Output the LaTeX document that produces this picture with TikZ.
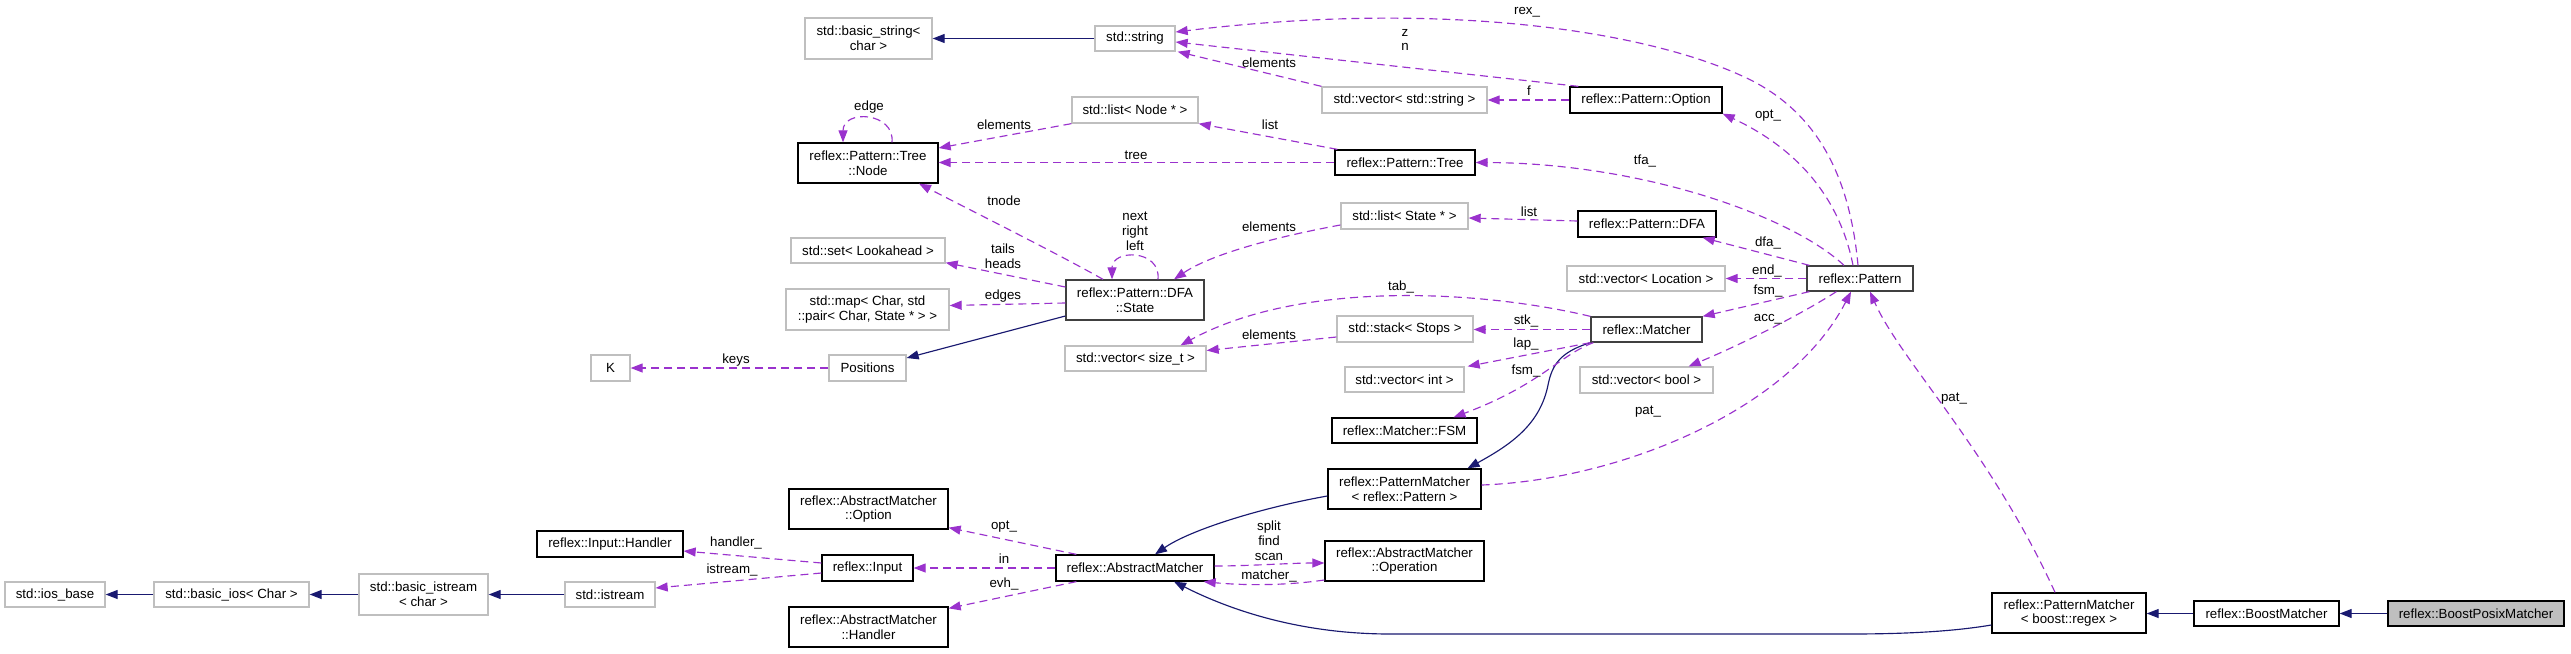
\documentclass[tikz,border=0pt]{standalone}
\usepackage{fontspec}
\setmainfont{Liberation Sans}
\usetikzlibrary{arrows.meta}
\definecolor{usecol}{HTML}{9A32CD}
\definecolor{inhcol}{HTML}{191970}
\definecolor{extcol}{HTML}{BFBFBF}
\definecolor{dkcol}{HTML}{404040}
\newcommand\dgfont{\fontsize{13.3}{14.8}\selectfont}
\begin{document}
\begin{tikzpicture}[x=1pt,y=-1pt,
  cls/.style={draw=black, line width=1.3pt, fill=white, inner sep=0pt, align=center, font=\dgfont},
  dk/.style={cls, draw=dkcol},
  ext/.style={cls, draw=extcol},
  hl/.style={cls, fill=extcol},
  sz/.style 2 args={minimum width=#1pt, minimum height=#2pt},
  inh/.style={draw=inhcol, line width=1.15pt, -{Triangle[length=12pt,width=9pt]}},
  use/.style={draw=usecol, line width=1.15pt, dash pattern=on 8pt off 5pt, -{Triangle[length=12pt,width=9pt]}},
  lbl/.style={inner sep=0pt, align=center, font=\dgfont}]
\useasboundingbox (0,0) rectangle (2571,653);
% ---------- nodes ----------
\node[ext, sz={127}{41}] (basicstring) at (868.5,38.5) {std::basic\_string<\\char >};
\node[ext, sz={80}{25}] (string) at (1135,38.5) {std::string};
\node[cls, sz={140}{40}] (node) at (868,163) {reflex::Pattern::Tree\\::Node};
\node[ext, sz={126}{26}] (listnode) at (1135,110) {std::list< Node * >};
\node[ext, sz={165}{26}] (vecstr) at (1404.5,100) {std::vector< std::string >};
\node[cls, sz={152}{26}] (popt) at (1646,100) {reflex::Pattern::Option};
\node[cls, sz={140}{25}] (tree) at (1405,162.5) {reflex::Pattern::Tree};
\node[ext, sz={127}{26}] (liststate) at (1404.5,216) {std::list< State * >};
\node[cls, sz={138}{26}] (dfa) at (1647,224) {reflex::Pattern::DFA};
\node[dk, sz={138}{40}] (state) at (1135,300) {reflex::Pattern::DFA\\::State};
\node[ext, sz={154}{25}] (setla) at (868,250.5) {std::set< Lookahead >};
\node[ext, sz={163}{41}] (mapc) at (867.5,309.5) {std::map< Char, std\\::pair< Char, State * > >};
\node[ext, sz={158}{25}] (veclocation) at (1646,278.5) {std::vector< Location >};
\node[dk, sz={106}{25}] (pattern) at (1860,278.5) {reflex::Pattern};
\node[dk, sz={111}{25}] (matcher) at (1646.5,329.5) {reflex::Matcher};
\node[ext, sz={136}{26}] (stack) at (1405,329) {std::stack< Stops >};
\node[ext, sz={141}{25}] (vecsize) at (1135.5,358.5) {std::vector< size\_t >};
\node[ext, sz={119}{25}] (vecint) at (1404.5,379.5) {std::vector< int >};
\node[ext, sz={133}{26}] (vecbool) at (1646.5,380) {std::vector< bool >};
\node[cls, sz={145}{25}] (fsm) at (1404.5,430.5) {reflex::Matcher::FSM};
\node[cls, sz={153}{40}] (pmpat) at (1404.5,489) {reflex::PatternMatcher\\< reflex::Pattern >};
\node[ext, sz={77}{26}] (positions) at (867.5,368) {Positions};
\node[ext, sz={39}{26}] (K) at (610.5,368) {K};
\node[cls, sz={159}{40}] (amopt) at (868.5,509) {reflex::AbstractMatcher\\::Option};
\node[cls, sz={146}{26}] (ihandler) at (610,544) {reflex::Input::Handler};
\node[cls, sz={91}{26}] (input) at (867.5,568) {reflex::Input};
\node[cls, sz={158}{26}] (am) at (1135,568) {reflex::AbstractMatcher};
\node[cls, sz={159}{40}] (amop) at (1404.5,561) {reflex::AbstractMatcher\\::Operation};
\node[cls, sz={159}{40}] (amhandler) at (868.5,627) {reflex::AbstractMatcher\\::Handler};
\node[ext, sz={100}{25}] (iosbase) at (55,594.5) {std::ios\_base};
\node[ext, sz={155}{25}] (basicios) at (231.5,594.5) {std::basic\_ios< Char >};
\node[ext, sz={129}{41}] (basicistream) at (423.5,594.5) {std::basic\_istream\\< char >};
\node[ext, sz={90}{25}] (istream) at (610,594.5) {std::istream};
\node[cls, sz={154}{40}] (pmboost) at (2069,613) {reflex::PatternMatcher\\< boost::regex >};
\node[cls, sz={145}{25}] (boostm) at (2266.5,613.5) {reflex::BoostMatcher};
\node[hl, sz={176}{25}] (boostposix) at (2476,613.5) {reflex::BoostPosixMatcher};
% ---------- inheritance ----------
\draw[inh] (string.west) -- (basicstring.east);
\draw[inh] ([yshift=-16pt]state.west) -- ([yshift=10pt]positions.east);
\draw[inh] (basicios.west) -- (iosbase.east);
\draw[inh] (basicistream.west) -- (basicios.east);
\draw[inh] (istream.west) -- (basicistream.east);
\draw[inh] (matcher.south west) .. controls (1560,352) and (1552,365) .. (1548,385)
   .. controls (1540,425) and (1510,445) .. ([xshift=63pt]pmpat.north);
\draw[inh] ([yshift=-7pt]pmpat.west) .. controls (1260,508) and (1190,530) .. ([xshift=20pt]am.north);
\draw[inh] ([yshift=-12pt]pmboost.west) .. controls (1950,632) and (1900,634) .. (1850,634) -- (1390,634)
   .. controls (1300,634) and (1230,610) .. ([xshift=39pt]am.south);
\draw[inh] (boostm.west) -- (boostm.west -| pmboost.east);
\draw[inh] (boostposix.west) -- (boostm.east);
% ---------- usage ----------
\draw[use] ([xshift=24pt]node.north) .. controls (895,112) and (843,109) .. ([xshift=-25pt]node.north);
\draw[use] (listnode.south west) -- ([yshift=15pt]node.east);
\draw[use] ([xshift=3pt]tree.north west) -- (listnode.south east);
\draw[use] (tree.west) -- (tree.west -| node.east);
\draw[use] ([xshift=-16pt]pattern.north) .. controls (1790,215) and (1640,163) .. (tree.east);
\draw[use] (popt.west) -- (vecstr.east);
\draw[use] (vecstr.north west) -- ([xshift=2pt]string.south east);
\draw[use] ([xshift=9pt]popt.north west) -- ([yshift=-3.5pt]string.east);
\draw[use] ([xshift=-2pt]pattern.north) .. controls (1850,180) and (1820,110) .. (1740,75)
   .. controls (1640,30) and (1440,0) .. ([yshift=6.5pt]string.east);
\draw[use] ([xshift=-7pt]pattern.north) .. controls (1840,200) and (1800,150) .. (popt.south east);
\draw[use] ([yshift=3pt]dfa.west) -- ([yshift=-2pt]liststate.east);
\draw[use] ([yshift=-9pt]liststate.west) .. controls (1270,238) and (1210,255) .. ([xshift=39pt]state.north);
\draw[use] ([xshift=23pt]state.north) .. controls (1161,249) and (1112,249) .. ([xshift=-23pt]state.north);
\draw[use] ([xshift=-32pt]state.north) .. controls (1060,255) and (980,215) .. ([xshift=51pt]node.south);
\draw[use] ([yshift=13pt]state.west) -- ([yshift=1pt]setla.south east);
\draw[use] ([yshift=-3pt]state.west) -- ([yshift=4pt]mapc.east);
\draw[use] ([xshift=3pt]pattern.north west) -- ([xshift=-14pt]dfa.south east);
\draw[use] (pattern.west) -- (veclocation.east);
\draw[use] ([xshift=3pt]pattern.south west) -- (matcher.north east);
\draw[use] ([xshift=30pt]pattern.south west) .. controls (1800,315) and (1740,345) .. ([xshift=-25pt]vecbool.north east);
\draw[use] ([yshift=4pt]pmpat.east) .. controls (1620,480) and (1790,410) .. ([xshift=-9pt]pattern.south);
\draw[use] ([xshift=-14pt]pmboost.north) .. controls (1990,450) and (1900,360) .. ([xshift=10pt]pattern.south);
\draw[use] (matcher.north west) .. controls (1480,290) and (1300,280) .. ([xshift=45pt]vecsize.north);
\draw[use] (matcher.west) -- (matcher.west -| stack.east);
\draw[use] ([yshift=-8pt]stack.west) -- ([yshift=8pt]vecsize.east);
\draw[use] (matcher.south west) -- ([xshift=3pt]vecint.north east);
\draw[use] ([xshift=3pt]matcher.south west) .. controls (1560,355) and (1540,385) .. ([xshift=49pt]fsm.north);
\draw[use] ([xshift=21pt]am.north west) -- ([yshift=2pt]amopt.south east);
\draw[use] (am.west) -- (input.east);
\draw[use] ([xshift=21pt]am.south west) -- ([yshift=-2pt]amhandler.north east);
\draw[use] ([yshift=2pt]am.east) .. controls (1250,566) and (1290,563) .. ([yshift=-2pt]amop.west);
\draw[use] ([yshift=-19pt]amop.west) .. controls (1290,585) and (1250,586) .. ([xshift=-11pt]am.south east);
\draw[use] ([yshift=5pt]input.west) -- ([yshift=-7pt]ihandler.east);
\draw[use] ([yshift=-5pt]input.west) -- ([yshift=6.5pt]istream.east);
\draw[use] (positions.west) -- (K.east);
% ---------- labels ----------
\node[lbl] (l1) at (869,107) {edge};
\node[lbl] (l2) at (1004,125) {elements};
\node[lbl] (l3) at (1270,125) {list};
\node[lbl] (l4) at (1136,155) {tree};
\node[lbl] (l5) at (1645,161) {tfa\_};
\node[lbl] (l6) at (1529,91) {f};
\node[lbl] (l7) at (1269,63) {elements};
\node[lbl] (l8) at (1405,40) {z\\n};
\node[lbl] (l9) at (1527,12) {rex\_};
\node[lbl] (l10) at (1768,116) {opt\_};
\node[lbl] (l11) at (1529,212) {list};
\node[lbl] (l12) at (1269,227) {elements};
\node[lbl] (l13) at (1135,231) {next\\right\\left};
\node[lbl] (l14) at (1004,201) {tnode};
\node[lbl] (l15) at (1003,256) {tails\\heads};
\node[lbl] (l16) at (1003,296) {edges};
\node[lbl] (l17) at (1768,243) {dfa\_};
\node[lbl] (l18) at (1767,271) {end\_};
\node[lbl] (l19) at (1768,291) {fsm\_};
\node[lbl] (l20) at (1768,319) {acc\_};
\node[lbl] (l21) at (1648,412) {pat\_};
\node[lbl] (l22) at (1954,399) {pat\_};
\node[lbl] (l23) at (1401,287) {tab\_};
\node[lbl] (l24) at (1526,321) {stk\_};
\node[lbl] (l25) at (1269,335) {elements};
\node[lbl] (l26) at (1526,344) {lap\_};
\node[lbl] (l27) at (1526,371) {fsm\_};
\node[lbl] (l28) at (1004,527) {opt\_};
\node[lbl] (l29) at (1004,559) {in};
\node[lbl] (l30) at (1004,584) {evh\_};
\node[lbl] (l31) at (1269,541) {split\\find\\scan};
\node[lbl] (l32) at (1269,576) {matcher\_};
\node[lbl] (l33) at (736,543) {handler\_};
\node[lbl] (l34) at (732,570) {istream\_};
\node[lbl] (l35) at (736,360) {keys};
\end{tikzpicture}
\end{document}
